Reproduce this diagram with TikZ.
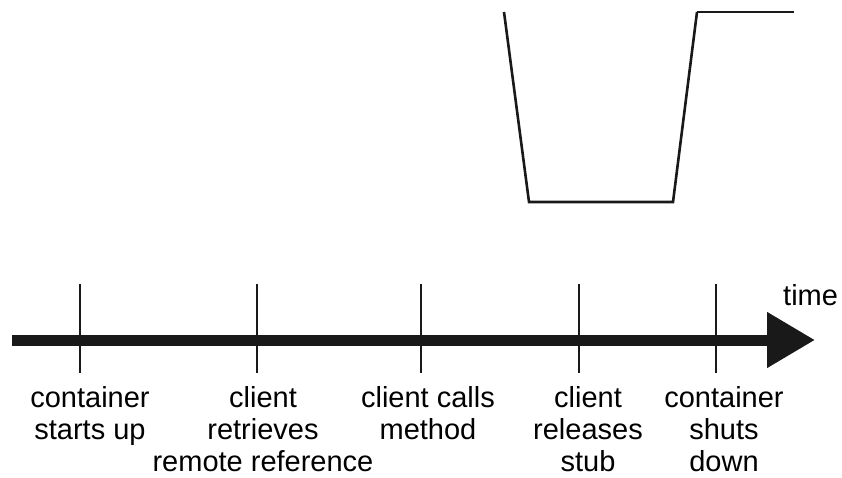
\documentclass[tikz,border=0pt]{standalone}
\usepackage{fontspec}
\setmainfont{Liberation Sans}
\usetikzlibrary{arrows.meta}
\begin{document}
\begin{tikzpicture}[x=1pt,y=-1pt,
  trace/.style={line width=2.6pt,color=black!90},
  level/.style={line width=1.5pt,color=black!90},
  tick/.style={line width=2pt,color=black!90},
  axis/.style={line width=11pt,color=black!90,
    -{Triangle[length=48pt,width=53pt]}},
  evt/.style={font=\fontsize{29}{32}\selectfont,align=center,
    inner sep=0pt,anchor=base},
  ]
\useasboundingbox (0,0) rectangle (842,478);

% availability trace
\coordinate (p0) at (504,12);
\coordinate (p1) at (529,202);
\coordinate (p2) at (673,202);
\coordinate (p3) at (697,12);
\coordinate (p4) at (794,12);
\draw[trace] (p0) -- (p1) -- (p2) -- (p3);
\draw[level] (p3) -- (p4);

% time axis
\coordinate (a0) at (12,340);
\coordinate (a1) at (815,340);
\draw[axis] (a0) -- (a1);
\node[evt,anchor=base west] (time) at (783,305) {time};

% event ticks
\foreach \n/\x in {1/80,2/257,3/421,4/579,5/716}{
  \coordinate (t\n a) at (\x,284);
  \coordinate (t\n b) at (\x,373);
  \draw[tick] (t\n a) -- (t\n b);
}

% event labels (anchored at the baseline of their last line)
\node[evt] (e1) at (90,439) {container\\starts up};
\node[evt] (e2) at (263,471) {client\\retrieves\\remote reference};
\node[evt] (e3) at (428,439) {client calls\\method};
\node[evt] (e4) at (588,471) {client\\releases\\stub};
\node[evt] (e5) at (724,471) {container\\shuts\\down};
\end{tikzpicture}
\end{document}
